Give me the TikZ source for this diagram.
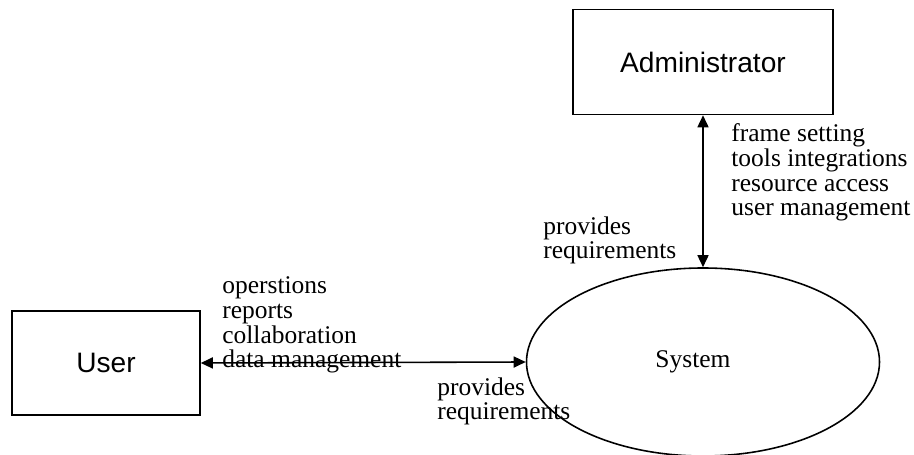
\documentclass[tikz,border=0pt]{standalone}
\usepackage{fontspec}
\setmainfont{Liberation Serif}
\newfontfamily\boxfont{Liberation Sans}
\usetikzlibrary{arrows.meta,shapes.geometric}
\tikzset{
  actor/.style={draw,line width=0.9pt,inner sep=0pt,font=\boxfont\fontsize{16}{18}\selectfont},
  flow/.style={line width=0.9pt,{Triangle[length=2.4mm,width=2.2mm]}-{Triangle[length=2.4mm,width=2.2mm]}},
  note/.style={align=left,inner sep=0pt,anchor=base west,font=\fontsize{14.5}{14.2}\selectfont}
}

\begin{document}
\begin{tikzpicture}
      \useasboundingbox (0,0) rectangle (18.28,9.1);

      \node[actor,minimum width=5.2cm,minimum height=2.1cm] (admin) at (14.06,7.86) {Administrator};
      \node[actor,minimum width=3.76cm,minimum height=2.08cm] (user) at (2.12,1.84) {User};
      \node[draw,ellipse,line width=0.9pt,inner sep=0pt,minimum width=7.06cm,minimum height=3.76cm,
            font=\fontsize{14.5}{16}\selectfont] (system) at (14.06,1.86) {System\hspace*{0.4cm}};

      \draw[flow] (user.east) -- (system.west);
      \draw[flow] (admin.south) -- (system.north);

      % anchor is the baseline of the last line
      \node[note] (userflows) at (4.44,1.74) {operstions\\reports\\collaboration\\data management};
      \node[note] (userreq) at (8.74,0.7) {provides\\requirements};
      \node[note] (adminreq) at (10.86,3.92) {provides\\requirements};
      \node[note] (adminflows) at (14.62,4.78) {frame setting\\tools integrations\\resource access\\user management};
    \end{tikzpicture}
\end{document}
